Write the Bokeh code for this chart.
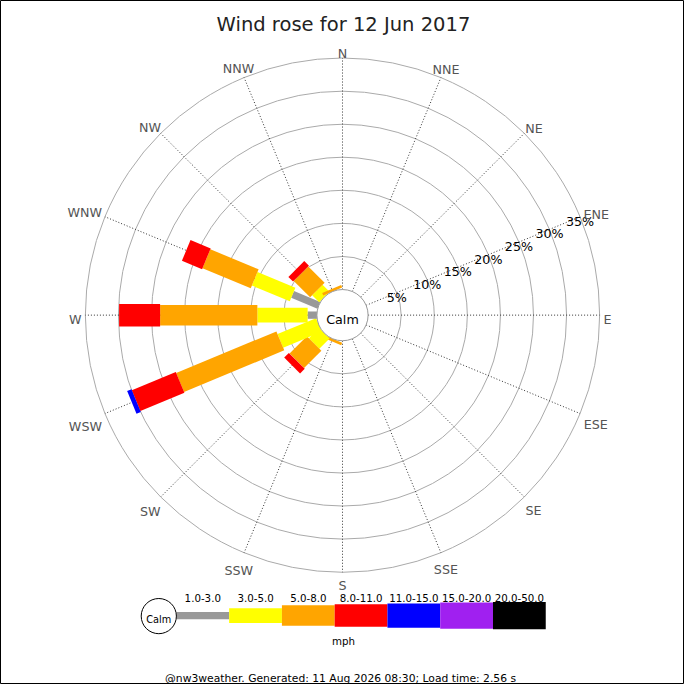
import math
from bokeh.plotting import figure
from bokeh.models import Range1d, ColumnDataSource
from bokeh.embed import file_html
from bokeh.resources import INLINE
from bokeh.core.properties import value

# ---------------- data ----------------
title_text = "Wind rose for 12 Jun 2017"
footer_text = "@nw3weather. Generated: 11 Aug 2026 08:30; Load time: 2.56 s"
unit_label = "mph"
calm_label = "Calm"
directions = ["N", "NNE", "NE", "ENE", "E", "ESE", "SE", "SSE",
              "S", "SSW", "SW", "WSW", "W", "WNW", "NW", "NNW"]
speed_bins = ["1.0-3.0", "3.0-5.0", "5.0-8.0", "8.0-11.0",
              "11.0-15.0", "15.0-20.0", "20.0-50.0"]
ring_ticks = [5, 10, 15, 20, 25, 30, 35]
# percentage of time, per direction (order as `directions`), per speed bin
pct_1_3   = [0, 0, 0, 0, 0, 0, 0, 0, 0, 0,   0,   0,    1.4,  4.3, 0,   0]
pct_3_5   = [0, 0, 0, 0, 0, 0, 0, 0, 0, 0,   2.2, 6.3,  7.6,  6.2, 1.5, 0]
pct_5_8   = [0, 0, 0, 0, 0, 0, 0, 0, 0, 0.4, 3.7, 16.4, 14.7, 7.9, 3.5, 0.4]
pct_8_11  = [0, 0, 0, 0, 0, 0, 0, 0, 0, 0,   1.0, 7.2,  6.2,  3.3, 1.0, 0]
pct_11_15 = [0, 0, 0, 0, 0, 0, 0, 0, 0, 0,   0,   0.7,  0,    0,   0,   0]
pct_15_20 = [0] * 16
pct_20_50 = [0] * 16
series = [pct_1_3, pct_3_5, pct_5_8, pct_8_11, pct_11_15, pct_15_20, pct_20_50]

# ---------------- style ----------------
bin_colors = ["#999999", "#ffff00", "#ffa500", "#ff0000", "#0000ff", "#a020f0", "#000000"]
bin_widths_px = [7.5, 15, 21, 23, 25, 27, 28]
FONT = "DejaVu Sans"
W, H = 684, 684
REF = 700.0
S = W / REF           # scale of the reference layout onto the figure
K = 6.77              # reference px per percent
CALM_PX = 26.2        # calm circle radius (reference px)
CX, CY = 350, 322     # rose centre (reference px)
R0 = CALM_PX / K
ROUT = R0 + ring_ticks[-1]


def sx(px):
    return (px - CX) / K


def sy(py):
    return (CY - py) / K


def fs(px):
    return f"{px * S:.2f}px"


p = figure(width=W, height=H, output_backend="svg", toolbar_location=None,
           x_range=Range1d(sx(0), sx(REF)), y_range=Range1d(sy(REF), sy(0)),
           x_axis_type=None, y_axis_type=None, min_border=0)
p.grid.visible = False
p.outline_line_color = "black"
p.background_fill_color = "white"
p.border_fill_color = "white"

# rings
p.circle(x=[0] * len(ring_ticks), y=[0] * len(ring_ticks),
         radius=[R0 + r for r in ring_ticks],
         fill_color=None, line_color="#aaaaaa", line_width=1)

# spokes
phis = [math.radians(90 - 22.5 * i) for i in range(len(directions))]
p.segment(x0=[R0 * math.cos(a) for a in phis], y0=[R0 * math.sin(a) for a in phis],
          x1=[ROUT * math.cos(a) for a in phis], y1=[ROUT * math.sin(a) for a in phis],
          line_color="#333333", line_width=1, line_dash="1 2")

# bars
bx, by, bw, bh, ba, bc = [], [], [], [], [], []
for i, phi in enumerate(phis):
    cum = 0.0
    for j, s in enumerate(series):
        v = s[i]
        if v <= 0:
            continue
        r_mid = R0 + cum + v / 2.0
        bx.append(r_mid * math.cos(phi))
        by.append(r_mid * math.sin(phi))
        bw.append(v)
        bh.append(bin_widths_px[j] / K)
        ba.append(phi)
        bc.append(bin_colors[j])
        cum += v
p.rect(x="x", y="y", width="w", height="h", angle="a", fill_color="c",
       line_color=None,
       source=ColumnDataSource(dict(x=bx, y=by, w=bw, h=bh, a=ba, c=bc)))

# calm circle
p.circle(x=[0], y=[0], radius=[R0], fill_color="white", line_color="#999999", line_width=1)
p.text(x=[0], y=[sy(CY + 4.7)], text=[calm_label], text_font=value(FONT),
       text_font_size=fs(13), text_color="black", text_align="center",
       text_baseline="alphabetic")

# percentage labels along ENE spoke
ang = math.radians(22.5)
p.text(x=[(R0 + r) * math.cos(ang) for r in ring_ticks],
       y=[(R0 + r) * math.sin(ang) - 4.7 / K for r in ring_ticks],
       text=[f"{r}%" for r in ring_ticks], text_font=value(FONT),
       text_font_size=fs(13), text_color="black", text_align="center",
       text_baseline="alphabetic")

# direction labels
em = {"N": 0.748, "E": 0.632, "S": 0.635, "W": 0.989}
lx, ly = [], []
for d, phi in zip(directions, phis):
    wpx = 13 * sum(em[c] for c in d)
    hpx = 10
    ext = abs(math.cos(phi)) * wpx / 2 + abs(math.sin(phi)) * hpx / 2
    rr = ROUT + (4 + ext) / K
    lx.append(rr * math.cos(phi))
    ly.append(rr * math.sin(phi) - 4.7 / K)
p.text(x=lx, y=ly, text=directions, text_font=value(FONT), text_font_size=fs(13),
       text_color="#555555", text_align="center", text_baseline="alphabetic")

# title
p.text(x=[sx(351)], y=[sy(25)], text=[title_text], text_font=value(FONT),
       text_font_size=fs(20), text_color="#222222", text_align="center",
       text_baseline="alphabetic")

# legend
LEG_L, LEG_SEG, LEG_Y = 180, 54, 629.5
p.rect(x=[sx(LEG_L + (j + 0.5) * LEG_SEG) for j in range(len(speed_bins))],
       y=[sy(LEG_Y)] * len(speed_bins), width=[LEG_SEG / K] * len(speed_bins),
       height=[wpx / K for wpx in bin_widths_px], fill_color=bin_colors, line_color=None)
p.text(x=[sx(LEG_L + (j + 0.5) * LEG_SEG) for j in range(len(speed_bins))],
       y=[sy(611)] * len(speed_bins), text=speed_bins, text_font=value(FONT),
       text_font_size=fs(10.5), text_color="black", text_align="center",
       text_baseline="alphabetic")
p.circle(x=[sx(162)], y=[sy(630)], radius=[18 / K], fill_color="white",
         line_color="black", line_width=1)
p.text(x=[sx(162)], y=[sy(633.6)], text=[calm_label], text_font=value(FONT),
       text_font_size=fs(10), text_color="black", text_align="center",
       text_baseline="alphabetic")
p.text(x=[sx(351)], y=[sy(655)], text=[unit_label], text_font=value(FONT),
       text_font_size=fs(10.5), text_color="black", text_align="center",
       text_baseline="alphabetic")

# footer
p.text(x=[sx(348)], y=[sy(694)], text=[footer_text], text_font=value(FONT),
       text_font_size=fs(11), text_color="black", text_align="center",
       text_baseline="alphabetic")

open("out.html", "w").write(file_html(p, INLINE))
